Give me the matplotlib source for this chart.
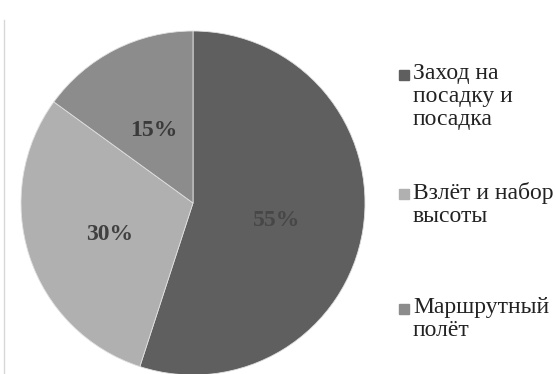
import matplotlib.pyplot as plt
from matplotlib.patches import Rectangle
from matplotlib.lines import Line2D

labels = ['Заход на\nпосадку и\nпосадка', 'Взлёт и набор\nвысоты', 'Маршрутный\nполёт']
shares = [55, 30, 15]
colors = ['#5f5f5f', '#b0b0b0', '#8c8c8c']

plt.rcParams['font.family'] = ['Liberation Serif', 'DejaVu Serif']

W, H = 556, 374
fig = plt.figure(figsize=(W / 100, H / 100), dpi=100)

# pie centre ~ (193, 203) px, radius ~172 px
cx, cy, r = 193, 203, 172
ax = fig.add_axes([(cx - r) / W, (H - cy - r) / H, 2 * r / W, 2 * r / H])
wedges, _ = ax.pie(shares, colors=colors, startangle=90, counterclock=False,
                   wedgeprops=dict(edgecolor='#e0e0e0', linewidth=0.6))
ax.set_xlim(-1, 1)
ax.set_ylim(-1, 1)
ax.axis('off')

# percentage labels (pixel positions)
lab_pos = [(277, 221), (110, 235), (154, 130)]
lab_col = ['#474747', '#404040', '#3a3a3a']
for v, (x, y), c in zip(shares, lab_pos, lab_col):
    fig.text(x / W, 1 - y / H, f'{v}%', ha='center', va='center',
             fontsize=17, fontweight='bold', color=c)

# legend, drawn by hand
leg_y = [73, 192, 307]
for lab, col, y in zip(labels, colors, leg_y):
    fig.patches.append(Rectangle((399 / W, 1 - (y + 7) / H), 10 / W, 10 / H,
                                 transform=fig.transFigure, color=col))
    fig.text(413 / W, 1 - (y - 10) / H, lab, ha='left', va='top',
             fontsize=17, color='#222222', linespacing=1.12)

# thin frame line on the left
fig.add_artist(Line2D([3.5 / W, 3.5 / W], [0, 1 - 20 / H],
                      transform=fig.transFigure, color='#d8d8d8', lw=1))

fig.savefig('out.png', dpi=100)
